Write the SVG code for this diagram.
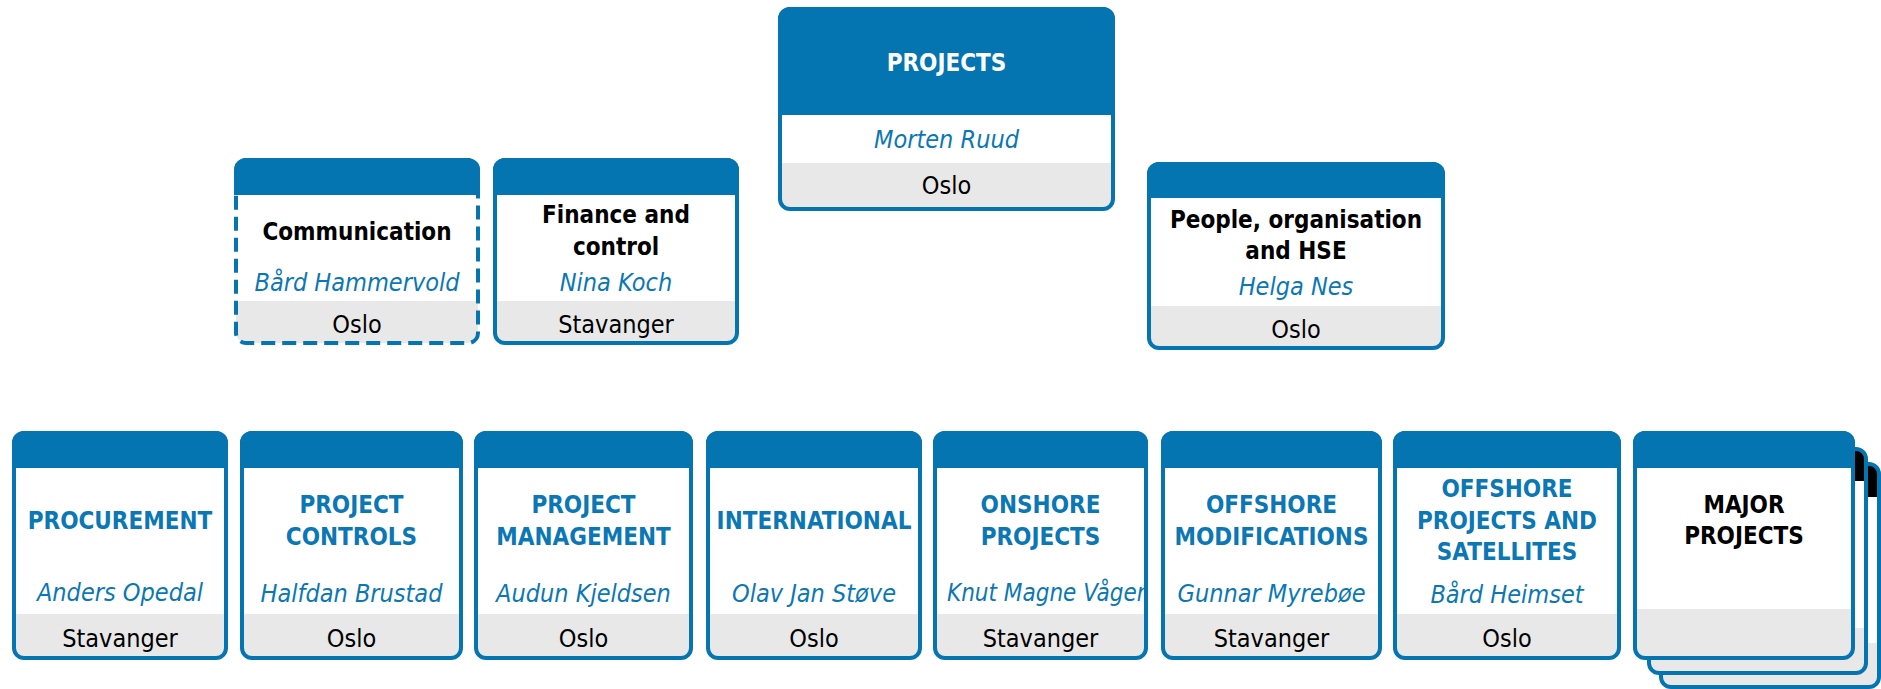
<svg xmlns="http://www.w3.org/2000/svg" width="1881" height="689" viewBox="0 0 1881 689">
<style>
.bg{fill:#ffffff}
.band{fill:#e8e8e8}
.edge{fill:none;stroke:#0575b1;stroke-width:4}
.dash{stroke-dasharray:14 7}
.head{fill:#0575b1}
.headk{fill:#000000}
text{font-family:"DejaVu Sans Condensed","DejaVu Sans",sans-serif;font-stretch:condensed;text-anchor:middle}
.t{font-size:24px;font-weight:bold;fill:#000000}
.tb{font-size:24px;font-weight:bold;fill:#0b77b5}
.tw{font-size:24px;font-weight:bold;fill:#ffffff}
.n{font-size:25px;font-style:italic;fill:#0b77b5}
.l{font-size:25px;fill:#000000}
</style>
<defs>
<clipPath id="clip-onshore"><rect x="935" y="433" width="210" height="225"/></clipPath>
</defs>
<g id="connectors"></g>

<g id="projects">
<rect class="bg" x="780" y="9" width="333" height="200" rx="10"/>
<path class="band" d="M780 163 H1113 V199 A10 10 0 0 1 1103 209 H790 A10 10 0 0 1 780 199 Z"/>
<rect class="edge" x="780" y="9" width="333" height="200" rx="10"/>
<path class="head" d="M778 115 V19 A12 12 0 0 1 790 7 H1103 A12 12 0 0 1 1115 19 V115 Z"/>
<text class="tw" x="946.5" y="71">PROJECTS</text>
<text class="n" x="946.5" y="148">Morten Ruud</text>
<text class="l" x="946.5" y="194">Oslo</text>
</g>

<g id="communication">
<rect class="bg" x="236" y="160" width="242" height="183" rx="10"/>
<path class="band" d="M236 301 H478 V333 A10 10 0 0 1 468 343 H246 A10 10 0 0 1 236 333 Z"/>
<rect class="edge dash" x="236" y="160" width="242" height="183" rx="10"/>
<path class="head" d="M234 195 V170 A12 12 0 0 1 246 158 H468 A12 12 0 0 1 480 170 V195 Z"/>
<text class="t" x="357" y="240">Communication</text>
<text class="n" x="357" y="291">Bård Hammervold</text>
<text class="l" x="357" y="333">Oslo</text>
</g>

<g id="finance">
<rect class="bg" x="495" y="160" width="242" height="183" rx="10"/>
<path class="band" d="M495 301 H737 V333 A10 10 0 0 1 727 343 H505 A10 10 0 0 1 495 333 Z"/>
<rect class="edge" x="495" y="160" width="242" height="183" rx="10"/>
<path class="head" d="M493 195 V170 A12 12 0 0 1 505 158 H727 A12 12 0 0 1 739 170 V195 Z"/>
<text class="t" x="616" y="223">Finance and</text>
<text class="t" x="616" y="255">control</text>
<text class="n" x="616" y="291">Nina Koch</text>
<text class="l" x="616" y="333">Stavanger</text>
</g>

<g id="people">
<rect class="bg" x="1149" y="164" width="294" height="184" rx="10"/>
<path class="band" d="M1149 306 H1443 V338 A10 10 0 0 1 1433 348 H1159 A10 10 0 0 1 1149 338 Z"/>
<rect class="edge" x="1149" y="164" width="294" height="184" rx="10"/>
<path class="head" d="M1147 198 V174 A12 12 0 0 1 1159 162 H1433 A12 12 0 0 1 1445 174 V198 Z"/>
<text class="t" x="1296" y="228">People, organisation</text>
<text class="t" x="1296" y="259">and HSE</text>
<text class="n" x="1296" y="295">Helga Nes</text>
<text class="l" x="1296" y="338">Oslo</text>
</g>

<g id="procurement">
<rect class="bg" x="14" y="433" width="212" height="225" rx="10"/>
<path class="band" d="M14 614 H226 V648 A10 10 0 0 1 216 658 H24 A10 10 0 0 1 14 648 Z"/>
<rect class="edge" x="14" y="433" width="212" height="225" rx="10"/>
<path class="head" d="M12 468 V443 A12 12 0 0 1 24 431 H216 A12 12 0 0 1 228 443 V468 Z"/>
<text class="tb" x="120" y="529">PROCUREMENT</text>
<text class="n" x="120" y="601">Anders Opedal</text>
<text class="l" x="120" y="647">Stavanger</text>
</g>

<g id="project-controls">
<rect class="bg" x="242" y="433" width="219" height="225" rx="10"/>
<path class="band" d="M242 614 H461 V648 A10 10 0 0 1 451 658 H252 A10 10 0 0 1 242 648 Z"/>
<rect class="edge" x="242" y="433" width="219" height="225" rx="10"/>
<path class="head" d="M240 468 V443 A12 12 0 0 1 252 431 H451 A12 12 0 0 1 463 443 V468 Z"/>
<text class="tb" x="351.5" y="513">PROJECT</text>
<text class="tb" x="351.5" y="545">CONTROLS</text>
<text class="n" x="351.5" y="602">Halfdan Brustad</text>
<text class="l" x="351.5" y="647">Oslo</text>
</g>

<g id="project-management">
<rect class="bg" x="476" y="433" width="215" height="225" rx="10"/>
<path class="band" d="M476 614 H691 V648 A10 10 0 0 1 681 658 H486 A10 10 0 0 1 476 648 Z"/>
<rect class="edge" x="476" y="433" width="215" height="225" rx="10"/>
<path class="head" d="M474 468 V443 A12 12 0 0 1 486 431 H681 A12 12 0 0 1 693 443 V468 Z"/>
<text class="tb" x="583.5" y="513">PROJECT</text>
<text class="tb" x="583.5" y="545">MANAGEMENT</text>
<text class="n" x="583.5" y="602">Audun Kjeldsen</text>
<text class="l" x="583.5" y="647">Oslo</text>
</g>

<g id="international">
<rect class="bg" x="708" y="433" width="212" height="225" rx="10"/>
<path class="band" d="M708 614 H920 V648 A10 10 0 0 1 910 658 H718 A10 10 0 0 1 708 648 Z"/>
<rect class="edge" x="708" y="433" width="212" height="225" rx="10"/>
<path class="head" d="M706 468 V443 A12 12 0 0 1 718 431 H910 A12 12 0 0 1 922 443 V468 Z"/>
<text class="tb" x="814" y="529">INTERNATIONAL</text>
<text class="n" x="814" y="602">Olav Jan Støve</text>
<text class="l" x="814" y="647">Oslo</text>
</g>

<g id="onshore-projects">
<rect class="bg" x="935" y="433" width="211" height="225" rx="10"/>
<path class="band" d="M935 614 H1146 V648 A10 10 0 0 1 1136 658 H945 A10 10 0 0 1 935 648 Z"/>
<text class="n" x="947" y="601" style="text-anchor:start;font-size:24px" clip-path="url(#clip-onshore)">Knut Magne Vågen</text>
<rect class="edge" x="935" y="433" width="211" height="225" rx="10"/>
<path class="head" d="M933 468 V443 A12 12 0 0 1 945 431 H1136 A12 12 0 0 1 1148 443 V468 Z"/>
<text class="tb" x="1040.5" y="513">ONSHORE</text>
<text class="tb" x="1040.5" y="545">PROJECTS</text>
<text class="l" x="1040.5" y="647">Stavanger</text>
</g>

<g id="offshore-modifications">
<rect class="bg" x="1163" y="433" width="217" height="225" rx="10"/>
<path class="band" d="M1163 614 H1380 V648 A10 10 0 0 1 1370 658 H1173 A10 10 0 0 1 1163 648 Z"/>
<rect class="edge" x="1163" y="433" width="217" height="225" rx="10"/>
<path class="head" d="M1161 468 V443 A12 12 0 0 1 1173 431 H1370 A12 12 0 0 1 1382 443 V468 Z"/>
<text class="tb" x="1271.5" y="513">OFFSHORE</text>
<text class="tb" x="1271.5" y="545">MODIFICATIONS</text>
<text class="n" x="1271.5" y="602">Gunnar Myrebøe</text>
<text class="l" x="1271.5" y="647">Stavanger</text>
</g>

<g id="offshore-projects">
<rect class="bg" x="1395" y="433" width="224" height="225" rx="10"/>
<path class="band" d="M1395 614 H1619 V648 A10 10 0 0 1 1609 658 H1405 A10 10 0 0 1 1395 648 Z"/>
<rect class="edge" x="1395" y="433" width="224" height="225" rx="10"/>
<path class="head" d="M1393 468 V443 A12 12 0 0 1 1405 431 H1609 A12 12 0 0 1 1621 443 V468 Z"/>
<text class="tb" x="1507" y="497">OFFSHORE</text>
<text class="tb" x="1507" y="529">PROJECTS AND</text>
<text class="tb" x="1507" y="560">SATELLITES</text>
<text class="n" x="1507" y="603">Bård Heimset</text>
<text class="l" x="1507" y="647">Oslo</text>
</g>

<g id="major-projects">
<rect class="bg" x="1661" y="464" width="218" height="223" rx="10"/>
<path class="band" d="M1661 643 H1879 V677 A10 10 0 0 1 1869 687 H1671 A10 10 0 0 1 1661 677 Z"/>
<path class="headk" d="M1661 497 V474 A10 10 0 0 1 1671 464 H1869 A10 10 0 0 1 1879 474 V497 Z"/>
<rect class="edge" x="1661" y="464" width="218" height="223" rx="10"/>
<rect class="bg" x="1649" y="449" width="217" height="224" rx="10"/>
<path class="band" d="M1649 628 H1866 V663 A10 10 0 0 1 1856 673 H1659 A10 10 0 0 1 1649 663 Z"/>
<path class="headk" d="M1649 481 V459 A10 10 0 0 1 1659 449 H1856 A10 10 0 0 1 1866 459 V481 Z"/>
<rect class="edge" x="1649" y="449" width="217" height="224" rx="10"/>
<rect class="bg" x="1635" y="433" width="218" height="225" rx="10"/>
<path class="band" d="M1635 609 H1853 V648 A10 10 0 0 1 1843 658 H1645 A10 10 0 0 1 1635 648 Z"/>
<rect class="edge" x="1635" y="433" width="218" height="225" rx="10"/>
<path class="head" d="M1633 468 V443 A12 12 0 0 1 1645 431 H1843 A12 12 0 0 1 1855 443 V468 Z"/>
<text class="t" x="1744" y="513">MAJOR</text>
<text class="t" x="1744" y="544">PROJECTS</text>
</g>
</svg>
